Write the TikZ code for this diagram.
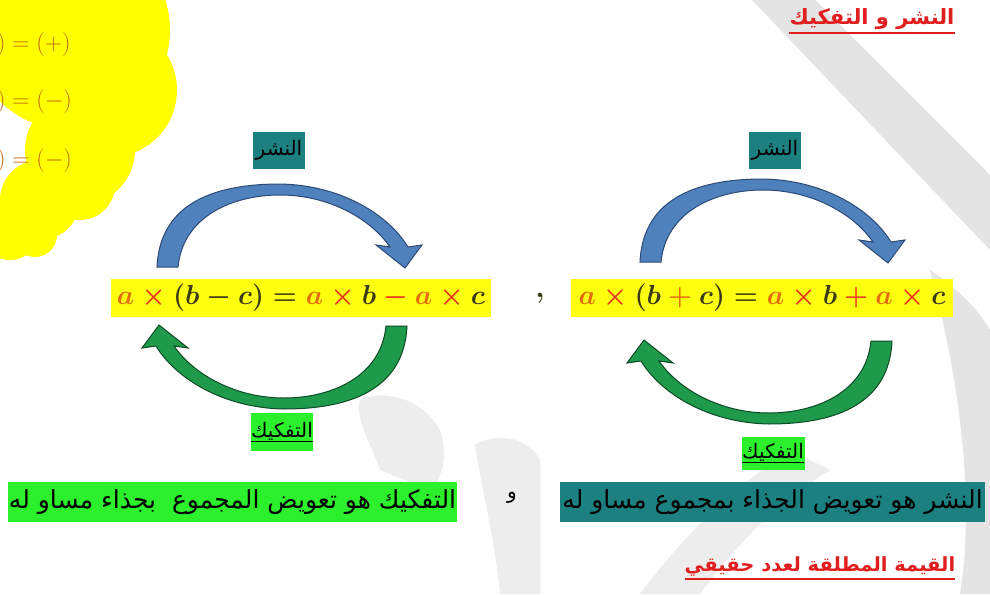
\RequirePackage{fix-cm}
\documentclass[tikz,border=0pt]{standalone}
\usepackage{fontspec}
\usepackage{graphicx}
\newfontfamily\arabicfont[Script=Arabic]{DejaVu Sans}
\TeXXeTstate=1
\definecolor{cloudyellow}{HTML}{FFFF00}
\definecolor{cloudtext}{HTML}{BF650E}
\definecolor{tealbox}{HTML}{1C8080}
\definecolor{greenbox}{HTML}{2BF02B}
\definecolor{eqyellow}{HTML}{FFFF10}
\definecolor{arrowblue}{HTML}{4F81BD}
\definecolor{arrowblueline}{HTML}{2C4A75}
\definecolor{arrowgreen}{HTML}{1E9A4A}
\definecolor{arrowgreenline}{HTML}{0D4A26}
\definecolor{titlered}{HTML}{E01E1E}
\definecolor{eqorange}{HTML}{E46C0A}
\definecolor{eqred}{HTML}{E8341A}
\definecolor{eqdark}{HTML}{3A3A14}
\definecolor{wmgray}{HTML}{E4E4E4}
\definecolor{wmlight}{HTML}{EDEDED}
\newcommand\ar[1]{\arabicfont\beginR #1\endR}
\newcommand\oA{\textcolor{eqorange}{a}}
\newcommand\rX{\mathbin{\textcolor{eqred}{\times}}}
\tikzset{
  curvarrow/.pic={
    \path[pic actions] (-131,41) .. controls (-128,-26) and (-68,-42) .. (-8,-42)
      .. controls (52,-41) and (100,-12) .. (120,21) -- (134,19) -- (117,42) -- (88,19) -- (102,21)
      .. controls (82,-8) and (40,-31) .. (-8,-31)
      .. controls (-55,-31) and (-105,-10) .. (-110,41) -- cycle;
  },
  bluearrow/.style={fill=arrowblue, draw=arrowblueline, line width=1pt},
  greenarrow/.style={fill=arrowgreen, draw=arrowgreenline, line width=1pt},
  eqbox/.style={fill=eqyellow, inner sep=0pt, minimum height=38pt, text=eqdark, font=\fontsize{27.5}{32}\selectfont\boldmath},
  tealtag/.style={fill=tealbox, inner sep=0pt, minimum width=52pt, minimum height=37pt, font=\fontsize{20}{24}\selectfont},
  greentag/.style={fill=greenbox, inner sep=0pt, font=\fontsize{20}{24}\selectfont},
  bar/.style={inner sep=0pt, minimum height=40pt, font=\fontsize{25}{30}\selectfont},
  redtitle/.style={text=titlered, inner sep=0pt, font=\fontsize{21}{25}\selectfont\bfseries},
  underl/.style={titlered, line width=1.8pt},
  cloudline/.style={text=cloudtext, anchor=west, inner sep=0pt, font=\fontsize{24}{28}\selectfont},
}
\begin{document}
\begin{tikzpicture}[x=1pt, y=-1pt]
\clip (0,0) rectangle (990,594);
\fill[white] (0,0) rectangle (990,594);
% watermark shapes
\fill[wmgray] (752,0) -- (815,0) -- (990,175) -- (990,250) -- cycle;
\fill[wmlight] (640,594) -- (700,594) .. controls (740,540) and (780,500) .. (830,470) -- (790,450) .. controls (730,490) and (680,540) .. cycle;
\fill[wmgray] (930,270) .. controls (975,300) and (990,330) .. (990,330) -- (990,594) -- (960,594) .. controls (975,500) and (960,380) .. (930,270) -- cycle;
\fill[wmlight] (360,400) .. controls (380,390) and (420,395) .. (440,430) .. controls (450,460) and (440,480) .. (430,490) -- (380,470) .. controls (370,440) and (355,420) .. cycle;
\fill[wmlight] (475,445) .. controls (500,430) and (530,440) .. (540,460) -- (540,594) -- (500,594) .. controls (495,540) and (480,480) .. cycle;
% yellow cloud
\fill[cloudyellow] (70,30) circle (100) (110,90) circle (67) (80,150) circle (55)
  (80,185) circle (35) (40,200) circle (40) (10,230) circle (30) (35,235) circle (22);
\node[cloudline] (c1) at (-3,45) {$)=(+)$};
\node[cloudline] (c2) at (-3,102) {$)=(-)$};
\node[cloudline] (c3) at (-3,160) {$)=(-)$};
% title
\node[redtitle] (title) at (872,19) {\ar{النشر و التفكيك}};
\draw[underl] ([yshift=-3pt]title.south west) -- ([yshift=-3pt]title.south east);
% left group
\node[tealtag] (expL) at (279,150) {\ar{النشر}};
\pic[bluearrow] (arrL) at (288,226) {curvarrow};
\node[eqbox, minimum width=380pt] (eqL) at (301,298)
  {$\oA\rX(b-c)=\oA\rX b\mathbin{\textcolor{eqred}{-}}\oA\rX c$};
\pic[greenarrow, rotate=180] (arrL2) at (276,367) {curvarrow};
\node[greentag, minimum width=61pt, minimum height=38pt] (facL) at (282,432) {\underline{\ar{التفكيك}}};
% comma
\node[font=\fontsize{30}{34}\selectfont\bfseries, text=eqdark] (comma) at (540,298) {,};
% right group
\node[tealtag] (expR) at (775,150) {\ar{النشر}};
\pic[bluearrow] (arrR) at (771,221) {curvarrow};
\node[eqbox, minimum width=382pt] (eqR) at (762,298)
  {$\oA\rX(b\mathbin{\textcolor{eqorange}{+}}c)=\oA\rX b\mathbin{\textcolor{eqred}{+}}\oA\rX c$};
\pic[greenarrow, rotate=180] (arrR2) at (761,382) {curvarrow};
\node[greentag, minimum width=63pt, minimum height=33pt] (facR) at (773,453) {\underline{\ar{التفكيك}}};
% bottom definitions
\node[bar, fill=greenbox, minimum width=449pt] (defF) at (232.5,502) {\ar{التفكيك هو تعويض المجموع\ \ بجذاء مساو له}};
\node[font=\fontsize{20}{24}\selectfont] (andw) at (512,498) {\ar{و}};
\node[bar, fill=tealbox, minimum width=425pt] (defE) at (772.5,502) {\ar{النشر هو تعويض الجذاء بمجموع مساو له}};
% bottom title
\node[redtitle, font=\fontsize{19.5}{24}\selectfont\bfseries] (title2) at (820,566) {\ar{القيمة المطلقة لعدد حقيقي}};
\draw[underl] ([yshift=-3pt]title2.south west) -- ([yshift=-3pt]title2.south east);
\end{tikzpicture}
\end{document}
